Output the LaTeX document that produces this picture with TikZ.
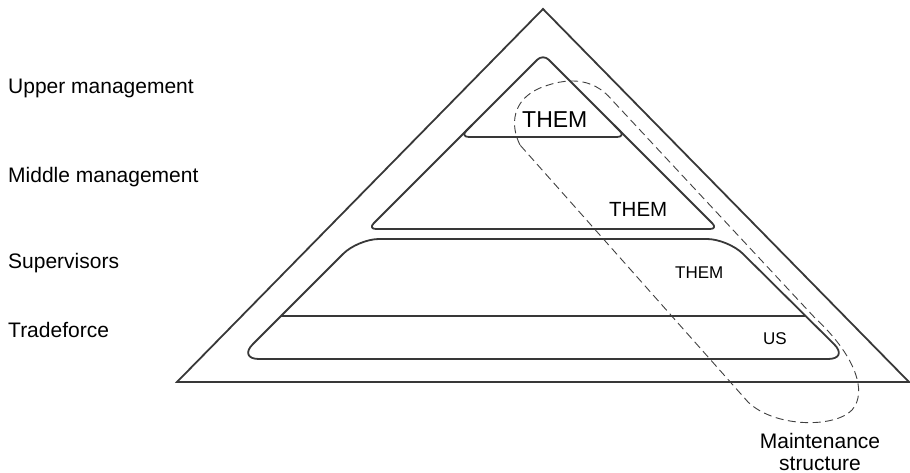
\documentclass[tikz,border=0pt]{standalone}
\usepackage{fontspec}
\setmainfont{Liberation Sans}
\begin{document}
\begin{tikzpicture}[x=1pt,y=-1pt,
  solidline/.style={draw=black!78,line width=1.8pt,line join=round},
  dashline/.style={draw=black!75,line width=0.9pt,dash pattern=on 8pt off 4.5pt},
  lbl/.style={anchor=base west,inner sep=0pt,font=\fontsize{21}{24}\selectfont},
  tierlbl/.style={anchor=base west,inner sep=0pt}
]
\useasboundingbox (0,0) rectangle (910,473);
% outer triangle
\draw[solidline,line join=miter] (543,9) -- (909,382) -- (177,382) -- cycle;
% middle tier (rounded triangle)
\draw[solidline,rounded corners=8] (543,229) -- (718,229) -- (543,54) -- (368,229) -- cycle;
% upper tier separator
\draw[solidline,rounded corners=9] (472,125) -- (460,137) -- (626,137) -- (614,125);
% lower block (supervisors + tradeforce)
\draw[solidline,rounded corners=21] (543,239) -- (728,239) -- (849,359) -- (238,359) -- (358,239) -- cycle;
\draw[solidline] (281,316) -- (805,316);
% maintenance structure loop
\draw[dashline] (520,145) .. controls (510,125) and (512,100) .. (540,88)
  .. controls (565,78) and (592,76) .. (612,100)
  -- (815,318) .. controls (855,355) and (868,392) .. (852,410)
  .. controls (835,428) and (775,428) .. (748,402) -- cycle;
% left labels
\node[lbl] (um) at (8,94) {Upper management};
\node[lbl] (mm) at (8,183) {Middle management};
\node[lbl] (sv) at (8,268) {Supervisors};
\node[lbl] (tf) at (8,337) {Tradeforce};
% tier labels
\node[tierlbl,font=\fontsize{23}{26}\selectfont] (t1) at (522,128) {THEM};
\node[tierlbl,font=\fontsize{20.5}{24}\selectfont] (t2) at (609,216) {THEM};
\node[tierlbl,font=\fontsize{17}{20}\selectfont] (t3) at (675,278) {THEM};
\node[tierlbl,font=\fontsize{17}{20}\selectfont] (us) at (763,344) {US};
% maintenance label
\node[anchor=base,inner sep=0pt,font=\fontsize{21}{24}\selectfont] (ms1) at (820,448) {Maintenance};
\node[anchor=base,inner sep=0pt,font=\fontsize{21}{24}\selectfont] (ms2) at (820,470) {structure};
\end{tikzpicture}
\end{document}
